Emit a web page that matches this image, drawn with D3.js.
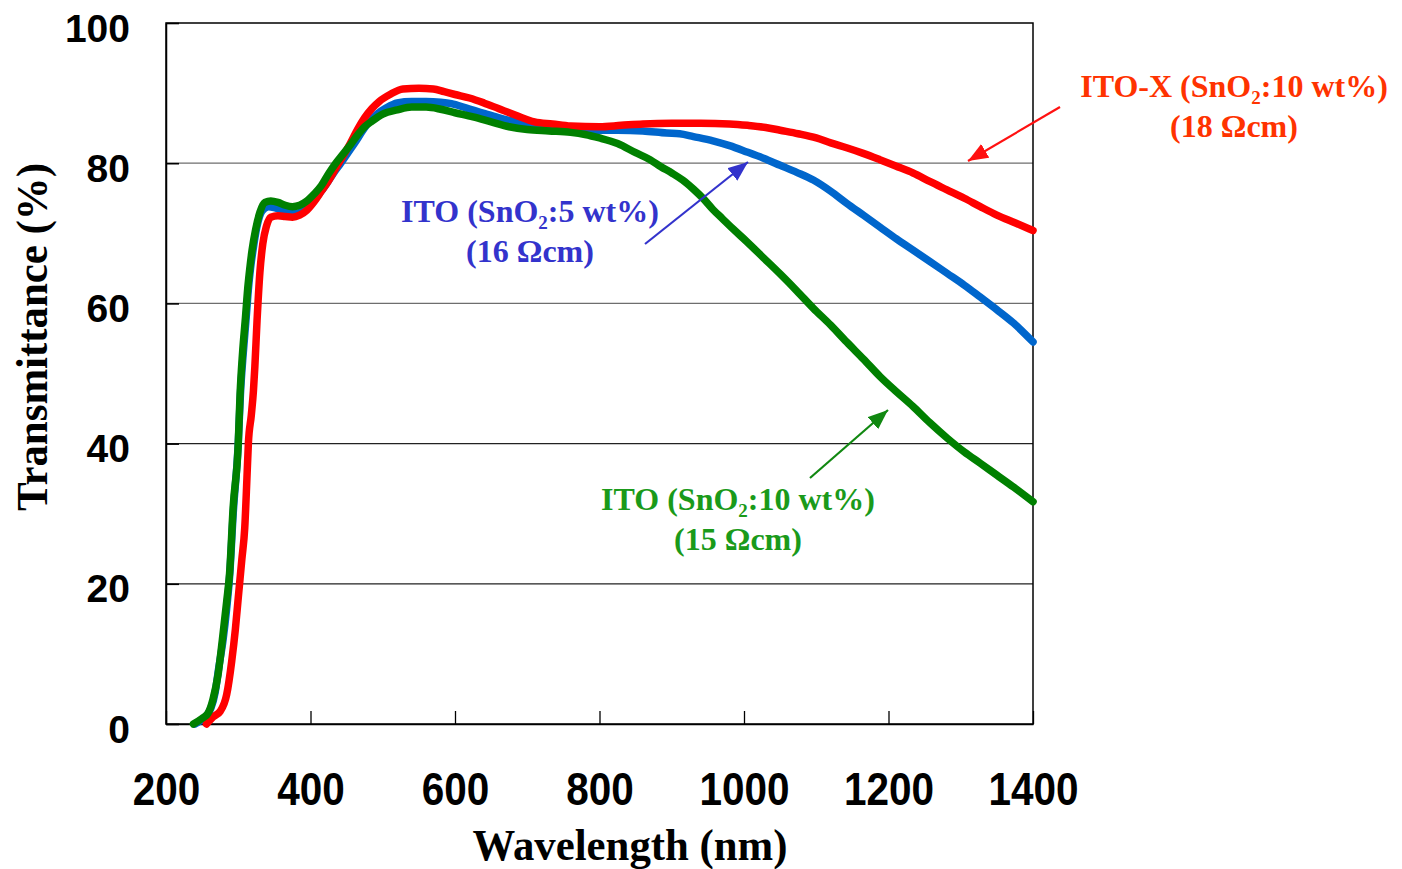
<!DOCTYPE html>
<html>
<head>
<meta charset="utf-8">
<script src="https://cdn.jsdelivr.net/npm/d3@7"></script>
<style>
  body { margin: 0; background: #fff; }
</style>
</head>
<body>
<div id="chart"></div>
<script>
// tick values
const xTicks = [200, 400, 600, 800, 1000, 1200, 1400];
const yTicks = [0, 20, 40, 60, 80, 100];
const gridValues = [20, 40, 60, 80];

// ITO-X (SnO2:10 wt%) - red
const redNm = [256, 265, 275, 284, 291, 296, 300, 305, 309, 312, 314, 318, 321, 323, 326, 330, 334, 339, 345, 355, 365, 375, 385, 395, 405, 415, 425, 435, 445, 455, 465, 475, 485, 495, 510, 528, 550, 570, 585, 600, 620, 640, 660, 685, 710, 735, 760, 800, 830, 860, 900, 940, 980, 1005, 1030, 1050, 1075, 1100, 1120, 1142, 1165, 1188, 1210, 1234, 1257, 1281, 1305, 1327, 1350, 1375, 1400];
const redT = [0, 1, 1.8, 4.2, 9, 13.5, 18, 23.5, 28, 35, 40, 44, 47.5, 51, 57.5, 64.5, 68.5, 71, 72.3, 72.5, 72.4, 72.3, 72.6, 73.3, 74.5, 76, 77.5, 79.3, 81, 82.8, 84.8, 86.5, 87.8, 88.8, 89.8, 90.6, 90.7, 90.6, 90.2, 89.8, 89.3, 88.6, 87.8, 86.8, 85.9, 85.6, 85.3, 85.2, 85.4, 85.6, 85.7, 85.7, 85.6, 85.4, 85.1, 84.7, 84.2, 83.6, 82.9, 82.2, 81.4, 80.5, 79.6, 78.6, 77.4, 76.2, 75, 73.8, 72.6, 71.5, 70.4];

// ITO (SnO2:5 wt%) - blue
const blueNm = [240, 252, 262, 268, 273, 279, 284, 288, 293, 300, 303, 307, 311, 314, 317, 321, 326, 333, 342, 352, 362, 372, 382, 392, 402, 412, 422, 432, 442, 452, 462, 472, 482, 492, 505, 520, 540, 560, 580, 595, 615, 640, 660, 685, 710, 735, 760, 790, 825, 860, 893, 911, 930, 957, 980, 1004, 1027, 1050, 1073, 1096, 1120, 1142, 1165, 1188, 1211, 1234, 1257, 1281, 1305, 1327, 1350, 1373, 1400];
const blueT = [0, 0.8, 2.2, 4.5, 8, 12, 16.5, 21, 30, 40, 47, 53, 58, 62, 65, 68, 71, 73.2, 73.8, 73.6, 73.3, 73, 72.9, 73.4, 74.4, 75.6, 77, 78.6, 80, 81.5, 83, 84.6, 86, 87, 87.9, 88.6, 88.8, 88.8, 88.7, 88.5, 87.9, 87.1, 86.5, 85.9, 85.5, 85.2, 84.9, 84.7, 84.7, 84.6, 84.3, 84.2, 83.8, 83.2, 82.5, 81.6, 80.7, 79.7, 78.7, 77.6, 76, 74.3, 72.6, 70.9, 69.2, 67.6, 66, 64.3, 62.6, 60.9, 59.1, 57.2, 54.5];

// ITO (SnO2:10 wt%) - green
const greenNm = [238, 250, 258, 265, 272, 278, 284, 288, 293, 300, 302.5, 306, 310, 313, 316, 319, 324, 330, 337, 345, 355, 365, 375, 385, 395, 405, 415, 425, 435, 445, 455, 465, 475, 485, 500, 520, 540, 560, 580, 600, 625, 650, 675, 700, 730, 760, 780, 800, 825, 850, 870, 885, 900, 915, 930, 945, 957, 970, 985, 1004, 1027, 1050, 1073, 1096, 1120, 1142, 1165, 1188, 1211, 1234, 1257, 1281, 1305, 1327, 1350, 1373, 1400];
const greenT = [0, 0.8, 1.5, 3.5, 7, 12, 17.5, 21.5, 31, 40, 47, 53, 58, 62, 65, 67.5, 70.5, 73, 74.4, 74.6, 74.4, 74, 73.8, 74, 74.6, 75.6, 76.8, 78.5, 80, 81.3, 82.6, 84, 85.2, 86, 87, 87.6, 88, 88, 87.7, 87.2, 86.6, 85.9, 85.2, 84.8, 84.6, 84.4, 84.1, 83.6, 82.8, 81.5, 80.5, 79.5, 78.6, 77.6, 76.3, 74.8, 73.4, 72.1, 70.6, 68.8, 66.5, 64.2, 61.8, 59.3, 56.9, 54.5, 52.1, 49.6, 47.4, 45.3, 43, 40.8, 38.8, 37.2, 35.5, 33.8, 31.7];

const width = 1402, height = 869;
const plot = {left: 166, right: 1033, top: 23, bottom: 724};

const svg = d3.select("#chart").append("svg")
    .attr("width", width)
    .attr("height", height)
    .style("background", "#fff");

const x = d3.scaleLinear().domain([200, 1400]).range([plot.left, plot.right]);
const y = d3.scaleLinear().domain([0, 100]).range([plot.bottom, plot.top]);

// grid lines
svg.selectAll(".grid")
    .data(gridValues)
    .join("line")
    .attr("x1", plot.left)
    .attr("x2", plot.right)
    .attr("y1", d => y(d))
    .attr("y2", d => y(d))
    .attr("stroke", d => d >= 60 ? "#6e6e6e" : "#222")
    .attr("stroke-width", 1.3);

// frame
svg.append("rect")
    .attr("x", plot.left)
    .attr("y", plot.top)
    .attr("width", plot.right - plot.left)
    .attr("height", plot.bottom - plot.top)
    .attr("fill", "none")
    .attr("stroke", "#000")
    .attr("stroke-width", 1.5);

// x axis: ticks point inward
const xAxis = svg.append("g")
    .attr("transform", "translate(0," + plot.bottom + ")")
    .call(d3.axisBottom(x).tickValues(xTicks).tickFormat(d3.format("d"))
        .tickSizeInner(-13).tickSizeOuter(0).tickPadding(0));
xAxis.select(".domain").attr("stroke-width", 1.5);
xAxis.selectAll("line").attr("stroke-width", 1.3);
xAxis.selectAll("text")
    .attr("y", 81)
    .attr("dy", 0)
    .attr("transform", "scale(0.88,1)")
    .style("font-family", "'Liberation Sans', Arial, sans-serif")
    .style("font-weight", "bold")
    .style("font-size", "46px")
    .attr("fill", "#000");

// y axis
const yAxis = svg.append("g")
    .attr("transform", "translate(" + plot.left + ",0)")
    .call(d3.axisLeft(y).tickValues(yTicks).tickFormat(d3.format("d"))
        .tickSizeInner(-13).tickSizeOuter(0).tickPadding(36));
yAxis.select(".domain").attr("stroke-width", 1.5);
yAxis.selectAll("line").attr("stroke-width", 1.6);
yAxis.selectAll("text")
    .attr("dy", 18)
    .style("font-family", "'Liberation Sans', Arial, sans-serif")
    .style("font-weight", "bold")
    .style("font-size", "39px")
    .attr("fill", "#000");

// axis titles
svg.append("text")
    .attr("x", 630)
    .attr("y", 860)
    .attr("text-anchor", "middle")
    .attr("textLength", 315)
    .attr("lengthAdjust", "spacingAndGlyphs")
    .style("font-family", "'Liberation Serif', 'Times New Roman', serif")
    .style("font-weight", "bold")
    .style("font-size", "44px")
    .text("Wavelength (nm)");

svg.append("text")
    .attr("transform", "translate(47,337) rotate(-90)")
    .attr("text-anchor", "middle")
    .attr("textLength", 348)
    .attr("lengthAdjust", "spacingAndGlyphs")
    .style("font-family", "'Liberation Serif', 'Times New Roman', serif")
    .style("font-weight", "bold")
    .style("font-size", "44px")
    .text("Transmittance (%)");

// curves
const line = d3.line()
    .x(d => x(d[0]))
    .y(d => y(d[1]))
    .curve(d3.curveMonotoneX);

const series = [
    {name: "blue", nm: blueNm, t: blueT, color: "#0066cc"},
    {name: "red", nm: redNm, t: redT, color: "#ff0000"},
    {name: "green", nm: greenNm, t: greenT, color: "#008000"}
];

series.forEach(s => {
    svg.append("path")
        .datum(d3.zip(s.nm, s.t))
        .attr("d", line)
        .attr("fill", "none")
        .attr("stroke", s.color)
        .attr("stroke-width", 7.5)
        .attr("stroke-linejoin", "round")
        .attr("stroke-linecap", "round");
});

// arrows
const defs = svg.append("defs");
function addMarker(id, color) {
    defs.append("marker")
        .attr("id", id)
        .attr("markerUnits", "userSpaceOnUse")
        .attr("markerWidth", 22)
        .attr("markerHeight", 16)
        .attr("refX", 20)
        .attr("refY", 8)
        .attr("orient", "auto")
        .append("path")
        .attr("d", "M0,0 L20,8 L0,16 Z")
        .attr("fill", color);
}
addMarker("arRed", "#ff1111");
addMarker("arBlue", "#3333cc");
addMarker("arGreen", "#118811");

const arrows = [
    {x1: 1060, y1: 107, x2: 968, y2: 161, color: "#ff1111", m: "arRed"},
    {x1: 645, y1: 244, x2: 748, y2: 162, color: "#3333cc", m: "arBlue"},
    {x1: 810, y1: 478, x2: 888, y2: 410, color: "#118811", m: "arGreen"}
];
arrows.forEach(a => {
    svg.append("line")
        .attr("x1", a.x1).attr("y1", a.y1)
        .attr("x2", a.x2).attr("y2", a.y2)
        .attr("stroke", a.color)
        .attr("stroke-width", 2.2)
        .attr("marker-end", "url(#" + a.m + ")");
});

// labels
function label(cx, y1, y2, head, tail, second, color) {
    const t = svg.append("text")
        .attr("x", cx).attr("y", y1)
        .attr("text-anchor", "middle")
        .style("font-family", "'Liberation Serif', 'Times New Roman', serif")
        .style("font-weight", "bold")
        .style("font-size", "32px")
        .attr("fill", color);
    t.append("tspan").text(head);
    t.append("tspan").attr("dy", 7).style("font-size", "19px").text("2");
    t.append("tspan").attr("dy", -7).text(tail);
    svg.append("text")
        .attr("x", cx).attr("y", y2)
        .attr("text-anchor", "middle")
        .style("font-family", "'Liberation Serif', 'Times New Roman', serif")
        .style("font-weight", "bold")
        .style("font-size", "32px")
        .attr("fill", color)
        .text(second);
}
label(1234, 97, 137, "ITO-X (SnO", ":10 wt%)", "(18 \u03A9cm)", "#ff3300");
label(530, 222, 262, "ITO (SnO", ":5 wt%)", "(16 \u03A9cm)", "#3333cc");
label(738, 510, 550, "ITO (SnO", ":10 wt%)", "(15 \u03A9cm)", "#1a9a1a");
</script>
</body>
</html>
